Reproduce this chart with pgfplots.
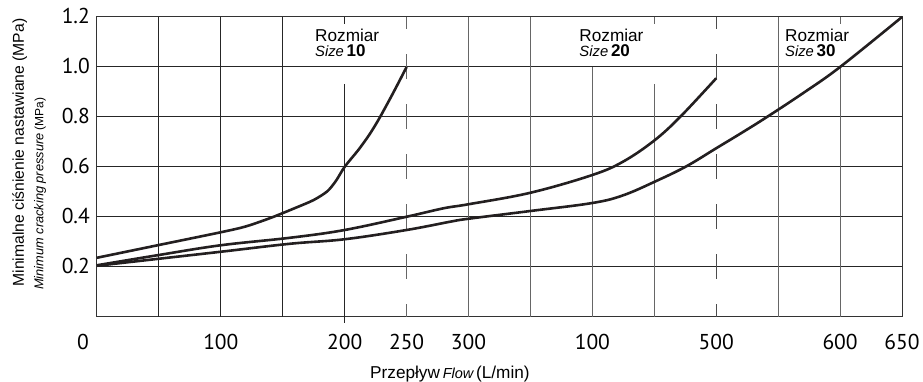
\documentclass[border=0pt]{standalone}
\usepackage{fontspec}
\setmainfont{Liberation Sans}
\newfontfamily\tickfont{PT Sans}
\usepackage{pgfplots}
\pgfplotsset{compat=1.18}
\definecolor{ink}{RGB}{35,31,32}
\begin{document}
\begin{tikzpicture}
\useasboundingbox (-97pt,-65pt) rectangle (826pt,317pt);
\begin{axis}[
  scale only axis, width=805pt, height=300pt,
  xmin=0, xmax=650, ymin=0, ymax=1.2,
  clip=false,
  axis line style={black!80, line width=1pt},
  xtick={0,100,200,250,300,400,500,600,650},
  xticklabels={0\hspace*{28pt},100,200,250,300,100,500,600,650},
  ytick={0.2,0.4,0.6,0.8,1.0,1.2},
  yticklabels={0.2,0.4,0.6,0.8,1.0,1.2},
  major tick length=0pt,
  /pgf/number format/assume math mode=true,
  ticklabel style={font=\tickfont\fontsize{21.5}{21.5}\selectfont},
  xticklabel style={anchor=base, yshift=-33pt},
  yticklabel style={anchor=east, inner sep=0pt, xshift=-7pt, yshift=1.5pt},
  ymajorgrids, grid style={black!85, line width=1pt},
]
% vertical grid
\draw[black!85, line width=1pt] (axis cs:50,0) -- (axis cs:50,1.2);
\draw[black!85, line width=1pt] (axis cs:100,0) -- (axis cs:100,1.2);
\draw[black!85, line width=1pt] (axis cs:150,0) -- (axis cs:150,1.2);
\draw[black!85, line width=1pt] (axis cs:200,1.2) -- (axis cs:200,1.172);
\draw[black!85, line width=1pt] (axis cs:200,0.932) -- (axis cs:200,-0.024);
\draw[black!60, line width=1pt, dash pattern=on 25pt off 25pt, dash phase=12.5pt] (axis cs:250,1.2) -- (axis cs:250,0);
\draw[black!60, line width=1pt] (axis cs:300,0) -- (axis cs:300,1.2);
\draw[black!60, line width=1pt] (axis cs:350,0) -- (axis cs:350,1.2);
\draw[black!60, line width=1pt] (axis cs:400,0) -- (axis cs:400,1.0);
\draw[black!60, line width=1pt] (axis cs:450,1.2) -- (axis cs:450,1.172);
\draw[black!60, line width=1pt] (axis cs:450,0.932) -- (axis cs:450,0);
\draw[black!70, line width=1pt, dash pattern=on 25pt off 25pt, dash phase=12.5pt] (axis cs:500,1.2) -- (axis cs:500,0);
\draw[black!60, line width=1pt] (axis cs:550,0) -- (axis cs:550,1.2);
\draw[black!60, line width=1pt] (axis cs:600,1.2) -- (axis cs:600,1.172);
\draw[black!60, line width=1pt] (axis cs:600,1.0) -- (axis cs:600,0);

% Size 10
\addplot[ink, line width=2.6pt, smooth, tension=0.45] coordinates {
(0,0.237) (50,0.288) (100,0.339) (120,0.362) (140,0.396) (160,0.436) (175,0.468) (186,0.503) (193,0.545) (200,0.601) (211,0.668) (220,0.73) (228,0.795) (239,0.895) (250,1.0)
};
% Size 20
\addplot[ink, line width=2.6pt, smooth, tension=0.6] coordinates {
(0,0.207) (50,0.248) (100,0.287) (156,0.317) (200,0.348) (250,0.401) (280,0.435) (300,0.451) (350,0.497) (400,0.568) (425,0.622) (450,0.706) (471,0.801) (500,0.955)
};
% Size 30
\addplot[ink, line width=2.6pt, smooth, tension=0.6] coordinates {
(0,0.205) (50,0.233) (100,0.261) (156,0.293) (200,0.311) (250,0.348) (285,0.381) (300,0.393) (350,0.424) (400,0.456) (425,0.487) (452,0.545) (476,0.603) (500,0.675) (520,0.735) (540,0.797) (570,0.895) (600,1.0) (650,1.2)
};

\node[anchor=base west, inner sep=0pt, font=\fontsize{17.2}{17.2}\selectfont] at (axis cs:176,1.101) {Rozmiar};
\node[anchor=base west, inner sep=0pt] at (axis cs:176,1.04) {{\fontsize{14.8}{14.8}\selectfont\itshape Size} {\fontsize{17}{17}\selectfont\bfseries 10}};
\node[anchor=base west, inner sep=0pt, font=\fontsize{17.2}{17.2}\selectfont] at (axis cs:389.4,1.101) {Rozmiar};
\node[anchor=base west, inner sep=0pt] at (axis cs:389.4,1.04) {{\fontsize{14.8}{14.8}\selectfont\itshape Size} {\fontsize{17}{17}\selectfont\bfseries 20}};
\node[anchor=base west, inner sep=0pt, font=\fontsize{17.2}{17.2}\selectfont] at (axis cs:555.5,1.101) {Rozmiar};
\node[anchor=base west, inner sep=0pt] at (axis cs:555.5,1.04) {{\fontsize{14.8}{14.8}\selectfont\itshape Size} {\fontsize{17}{17}\selectfont\bfseries 30}};
\end{axis}
\node[anchor=base west, inner sep=0pt, rotate=90, font=\fontsize{15.7}{15.7}\selectfont] at (-73pt,30.3pt) {Minimalne ciśnienie nastawiane (MPa)};
\node[anchor=base west, inner sep=0pt, rotate=90] at (-53.7pt,27pt) {{\fontsize{12.8}{12.8}\selectfont\itshape Minimum cracking pressure} {\fontsize{12}{12}\selectfont (MPa)}};
\node[anchor=base west, inner sep=0pt] at (273pt,-62pt) {{\fontsize{17.2}{17.2}\selectfont Przepływ} {\fontsize{14.5}{14.5}\selectfont\itshape Flow} {\fontsize{17.2}{17.2}\selectfont (L/min)}};
\end{tikzpicture}
\end{document}
